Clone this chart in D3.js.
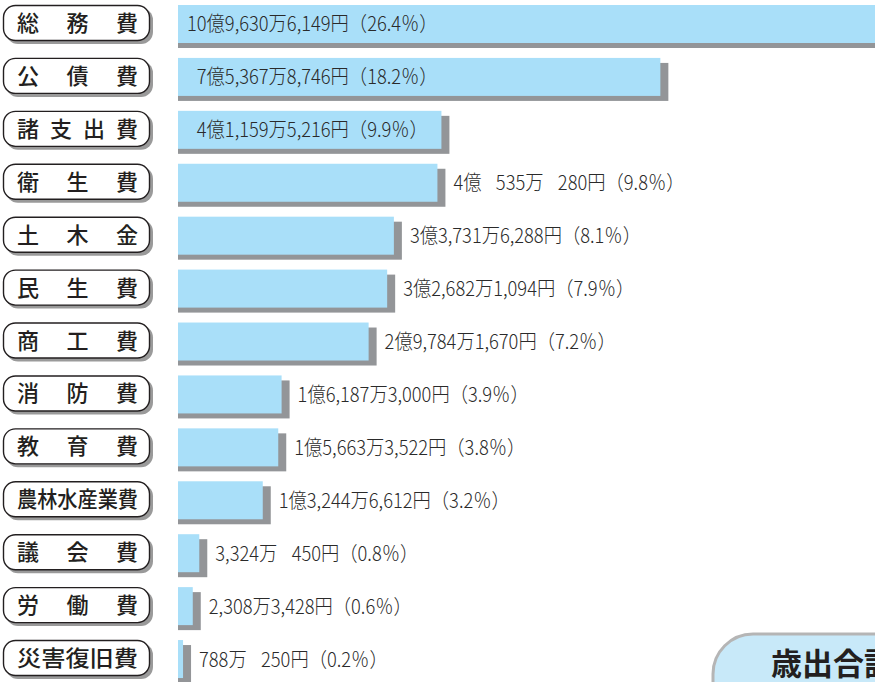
<!DOCTYPE html>
<html>
<head>
<meta charset="utf-8">
<script src="https://cdn.jsdelivr.net/npm/d3@7"></script>
<style>
  body { margin: 0; background: #fff; }
  svg { display: block; }
</style>
</head>
<body>
<div id="chart"></div>
<script>
// categorias (rótulos das caixinhas da esquerda)
const categories = ["総務費", "公債費", "諸支出費", "衛生費", "土木金", "民生費", "商工費",
  "消防費", "教育費", "農林水産業費", "議会費", "労働費", "災害復旧費"];

// valores em ienes
const values = [1096306149, 753678746, 411595216, 405350280, 337316288, 326821094, 297841670,
  161873000, 156633522, 132446612, 33240450, 23083428, 7880250];

// texto de cada barra (como está na figura; \u2007 = espaço do tamanho de um dígito)
const valueLabels = ["10億9,630万6,149円（26.4％）", "\u20077億5,367万8,746円（18.2％）",
  "\u20074億1,159万5,216円（9.9％）", "4億\u2007\u2008535万\u2007\u2008280円（9.8％）",
  "3億3,731万6,288円（8.1％）", "3億2,682万1,094円（7.9％）", "2億9,784万1,670円（7.2％）",
  "1億6,187万3,000円（3.9％）", "1億5,663万3,522円（3.8％）", "1億3,244万6,612円（3.2％）",
  "3,324万\u2007\u2008450円（0.8％）", "2,308万3,428円（0.6％）", "788万\u2007\u2008250円（0.2％）"];

// quais rótulos ficam dentro da barra
const insideLabel = [true, true, true, false, false, false, false, false, false, false, false, false, false];

const totalTitle = "歳出合計";

const width = 875;
const height = 682;

const barColor = "#a9dff9";
const shadowColor = "#939598";

const svg = d3.select("#chart").append("svg")
  .attr("width", width)
  .attr("height", height);

const x = d3.scaleLinear().domain([0, 1.1e9]).range([178, 178 + 704]);

const y = d3.scaleBand()
  .domain(categories)
  .range([5, 5 + 12 * 52.92 + 38])
  .paddingInner(0.282)
  .paddingOuter(0);

const bh = y.bandwidth();

const rows = svg.selectAll(".row")
  .data(categories)
  .enter()
  .append("g")
  .attr("class", "row");

// sombra cinza da barra
rows.append("rect")
  .attr("x", x(0))
  .attr("y", (d) => y(d) + 5)
  .attr("width", (d, i) => x(values[i]) - x(0) + 8)
  .attr("height", bh)
  .attr("fill", shadowColor);

// barra azul
rows.append("rect")
  .attr("x", x(0))
  .attr("y", (d) => y(d))
  .attr("width", (d, i) => x(values[i]) - x(0))
  .attr("height", bh)
  .attr("fill", barColor);

// texto do valor
rows.append("text")
  .attr("font-family", "'Noto Sans CJK JP', 'Noto Sans', sans-serif")
  .attr("font-size", 20)
  .attr("font-weight", 300)
  .attr("fill", "#2a2a2a")
  .attr("transform", (d, i) => {
    const tx = insideLabel[i] ? x(0) + 9 : x(values[i]) + 16;
    return `translate(${tx},${y(d) + bh / 2 + 7.5}) scale(0.915,1)`;
  })
  .text((d, i) => valueLabels[i]);

// caixinhas arredondadas da esquerda
rows.append("rect")
  .attr("x", 6)
  .attr("y", (d) => y(d) + 3)
  .attr("width", 147)
  .attr("height", bh - 2)
  .attr("rx", 12)
  .attr("fill", "#9a9a9a");

rows.append("rect")
  .attr("x", 3.5)
  .attr("y", (d) => y(d) + 0.5)
  .attr("width", 146)
  .attr("height", bh - 3)
  .attr("rx", 12)
  .attr("fill", "#fff")
  .attr("stroke", "#231f20")
  .attr("stroke-width", 1.4);

rows.append("text")
  .attr("x", 17)
  .attr("y", (d) => y(d) + bh / 2 + 7)
  .attr("font-family", "'Noto Sans CJK JP', sans-serif")
  .attr("font-size", 22)
  .attr("font-weight", 500)
  .attr("fill", "#231f20")
  .attr("textLength", 121)
  .attr("lengthAdjust", (d) => d.length > 4 ? "spacingAndGlyphs" : "spacing")
  .text((d) => d);

// caixa do total (cortada no canto, como no original)
svg.append("rect")
  .attr("x", 713)
  .attr("y", 634)
  .attr("width", 300)
  .attr("height", 90)
  .attr("rx", 40)
  .attr("fill", "#c8e9f9")
  .attr("stroke", "#b5b5b5")
  .attr("stroke-width", 3);

svg.append("text")
  .attr("x", 771)
  .attr("y", 675)
  .attr("font-family", "'Noto Sans CJK JP', sans-serif")
  .attr("font-size", 31)
  .attr("font-weight", 700)
  .attr("fill", "#231f20")
  .text(totalTitle);
</script>
</body>
</html>
